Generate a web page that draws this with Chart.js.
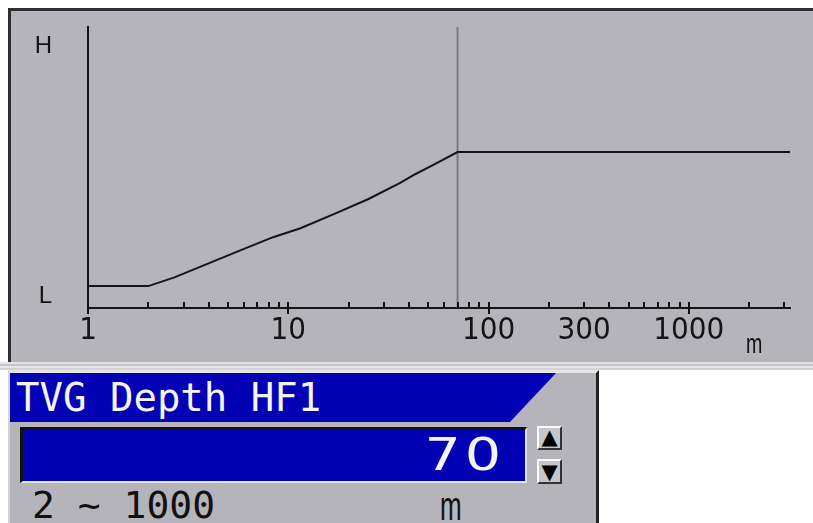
<!DOCTYPE html>
<html>
<head>
<meta charset="utf-8">
<script src="https://cdn.jsdelivr.net/npm/chart.js@4.4.1/dist/chart.umd.min.js"></script>
<style>
  html, body { margin: 0; padding: 0; background: #fff; }
  body { width: 813px; height: 523px; position: relative; overflow: hidden; font-family: "Liberation Sans", sans-serif; }
  .abs { position: absolute; }
  #graphPanel { left: 8px; top: 8px; width: 805px; height: 354px; box-sizing: border-box;
    background: #b5b4ba; border-top: 3px solid #2e2e30; border-left: 3px solid #2e2e30; }
  #sep { left: 0; top: 362px; width: 813px; height: 8px;
    background: linear-gradient(#e4e4e6 0 2px, #c6c6ca 2px 4px, #e8e8ea 4px 6px, #d2d2d6 6px 8px); }
  #setPanel { left: 8px; top: 370px; width: 591px; height: 153px; box-sizing: border-box;
    background: #b5b4ba; border-top: 3px solid #e6e6e8; border-left: 2px solid #d4d4d8; border-right: 3px solid #222; }
  #header { left: 10px; top: 373px; width: 546px; height: 49px; background: #0202b4;
    clip-path: polygon(0 0, 546px 0, 500px 49px, 0 49px); }
  #headerText { left: 16px; top: 373px; color: #f4f4f4; font: 39px "DejaVu Sans Mono", monospace; line-height: 49px; white-space: pre; }
  #valueBox { left: 20px; top: 427px; width: 507px; height: 56px; box-sizing: border-box; background: #0202b4;
    border-top: 3px solid #111; border-left: 3px solid #111; border-bottom: 2px solid #e4e4e6; border-right: 2px solid #e4e4e6; }
  #valueText { right: 308px; top: 427px; color: #f4f4f4; font: 44px "DejaVu Sans", sans-serif; line-height: 56px;
    letter-spacing: 3px; transform: scaleX(1.3); transform-origin: right center; }
  .btn { left: 537px; width: 25px; box-sizing: border-box; background: #c6c6ca;
    border-top: 2px solid #fafafa; border-left: 2px solid #fafafa; border-bottom: 2px solid #333; border-right: 2px solid #333;
    font: 21px "DejaVu Sans", sans-serif; color: #000; text-align: center; overflow: hidden; }
  #up { top: 426px; height: 24px; line-height: 19px; }
  #down { top: 459px; height: 25px; line-height: 22px; }
  #rangeText { left: 32px; top: 482px; color: #111; font: 38px "DejaVu Sans Mono", monospace; white-space: pre; line-height: 46px; }
  #rangeUnit { left: 440px; top: 483px; color: #111; font: 40px "Liberation Sans", sans-serif; line-height: 46px;
    transform: scaleX(0.65); transform-origin: left center; }
  #axisUnit { left: 746px; top: 329px; color: #111; font: 28px "Liberation Sans", sans-serif; line-height: 30px;
    transform: scaleX(0.7); transform-origin: left center; }
  #chart { left: 0; top: 0; }
</style>
</head>
<body>
<div id="graphPanel" class="abs"></div>
<canvas id="chart" class="abs" width="813" height="362"></canvas>
<div id="axisUnit" class="abs">m</div>
<div id="sep" class="abs"></div>
<div id="setPanel" class="abs"></div>
<div id="header" class="abs"></div>
<div id="headerText" class="abs">TVG Depth HF1</div>
<div id="valueBox" class="abs"></div>
<div id="valueText" class="abs">70</div>
<div id="up" class="abs btn">▲</div>
<div id="down" class="abs btn">▼</div>
<div id="rangeText" class="abs">2 ~ 1000</div>
<div id="rangeUnit" class="abs">m</div>

<script>
// ========== 数据 ==========
const depths = [1, 2, 2.7, 4, 5.8, 8.4, 11.5, 17, 25, 36, 43, 53, 70, 3200];   // m
const levels = [7.8, 7.8, 10.9, 15.9, 20.6, 25.2, 28.4, 33.5, 38.7, 44.4, 47.6, 50.9, 55.5, 55.5];
const markerDepth = 70;

const xTickValues = [1,2,3,4,5,6,7,8,9, 10,20,30,40,50,60,70,80,90,
                     100,200,300,400,500,600,700,800,900, 1000,2000,3000];
const xMajorValues = [1, 10, 100, 1000];
const xLabelValues = [1, 10, 100, 300, 1000];
const xLabelTexts = ["1", "10", "100", "300", "1000"];

const yTickValues = [4.1, 93.1];
const yTickLabels = ["L", "H"];

// ========== 刻度线 ==========
const tickMarks = {
  id: "tickMarks",
  afterDraw(chart) {
    const ctx = chart.ctx;
    const xs = chart.scales.x;
    const axisY = chart.chartArea.bottom;
    ctx.save();
    ctx.strokeStyle = "#111";
    ctx.lineWidth = 2;
    xTickValues.forEach(v => {
      const x = Math.round(xs.getPixelForValue(v));
      const major = xMajorValues.includes(v);
      ctx.beginPath();
      ctx.moveTo(x, axisY - 6);
      ctx.lineTo(x, major ? axisY + 6 : axisY);
      ctx.stroke();
    });
    ctx.restore();
  }
};

new Chart(document.getElementById("chart"), {
  type: "line",
  data: {
    datasets: [{
      data: depths.map((d, i) => ({ x: d, y: levels[i] })),
      borderColor: "#141414",
      borderWidth: 2,
      pointRadius: 0,
      tension: 0,
      order: 1
    }, {
      data: [{ x: markerDepth, y: 0 }, { x: markerDepth, y: 100 }],
      borderColor: "#7c7a80",
      borderWidth: 2,
      pointRadius: 0,
      order: 2
    }]
  },
  options: {
    responsive: false,
    animation: false,
    events: [],
    layout: { padding: { left: 0, top: 27, right: 23, bottom: 0 } },
    plugins: { legend: { display: false }, tooltip: { enabled: false } },
    scales: {
      x: {
        type: "logarithmic",
        min: 1,
        max: 3200,
        afterBuildTicks: s => { s.ticks = xTickValues.map(v => ({ value: v })); },
        afterFit: s => { s.height = 54; s.paddingLeft = 0; s.paddingRight = 0; },
        grid: { display: false, drawTicks: false },
        border: { display: true, color: "#141414", width: 2 },
        ticks: {
          autoSkip: false,
          maxRotation: 0,
          padding: 4,
          color: "#141414",
          font: { family: "'DejaVu Sans Condensed', sans-serif", size: 31 },
          callback: v => {
            const i = xLabelValues.indexOf(v);
            return i >= 0 ? xLabelTexts[i] : "";
          }
        }
      },
      y: {
        type: "linear",
        min: 0,
        max: 100,
        afterBuildTicks: s => { s.ticks = yTickValues.map(v => ({ value: v })); },
        afterFit: s => { s.width = 88; s.paddingTop = 0; s.paddingBottom = 0; },
        grid: { display: false, drawTicks: false },
        border: { display: true, color: "#141414", width: 2 },
        ticks: {
          padding: 36,
          color: "#141414",
          font: { family: "'Liberation Sans', sans-serif", size: 24 },
          callback: (v, i) => yTickLabels[i]
        }
      }
    }
  },
  plugins: [tickMarks]
});
</script>
</body>
</html>
